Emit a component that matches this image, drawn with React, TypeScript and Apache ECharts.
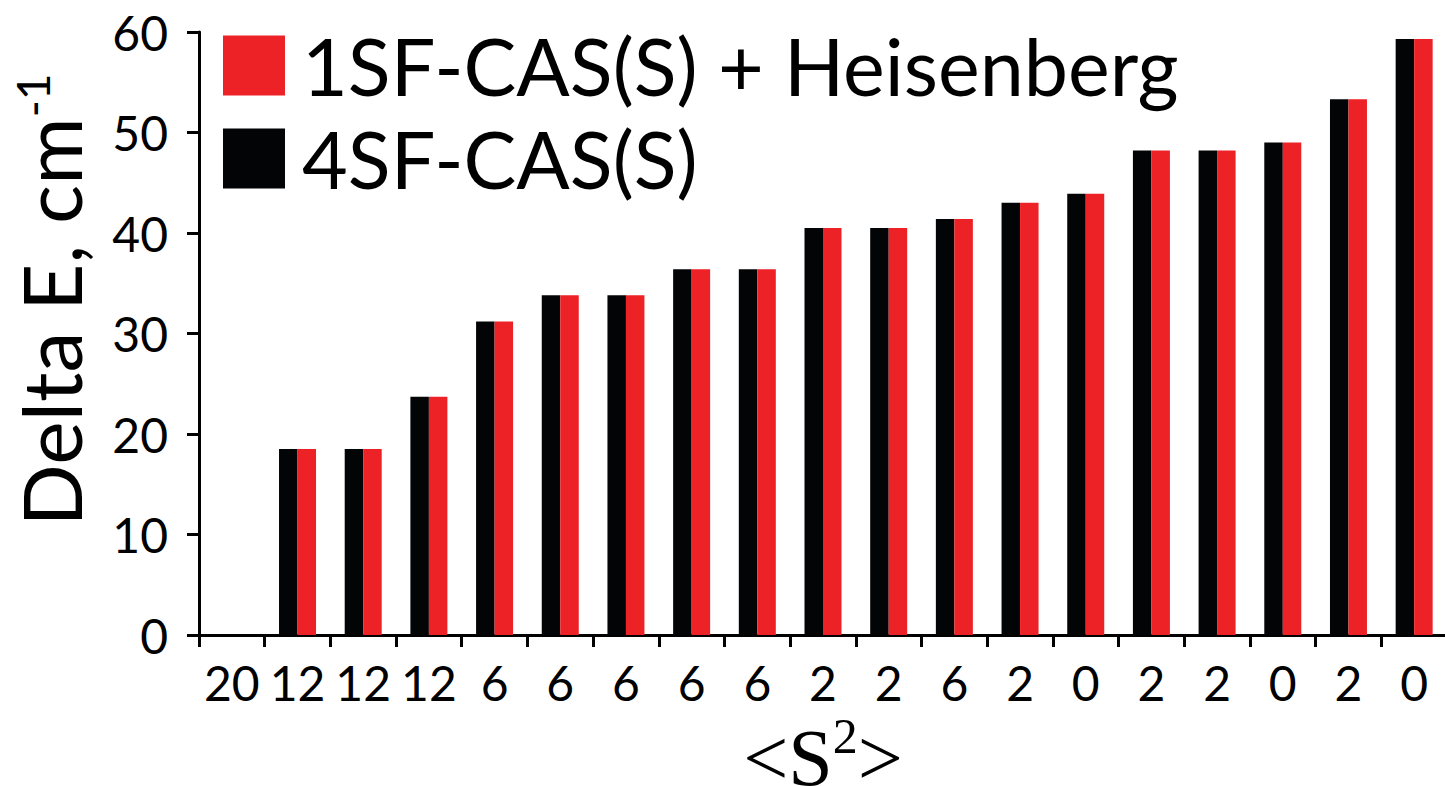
import React, { useEffect, useRef } from 'react';
import * as echarts from 'echarts';

const categories = ['20', '12', '12', '12', '6', '6', '6', '6', '6', '2', '2', '6', '2', '0', '2', '2', '0', '2', '0'];
const fourSF = [0, 18.5, 18.5, 23.7, 31.2, 33.8, 33.8, 36.4, 36.4, 40.5, 40.5, 41.4, 43.0, 43.9, 48.2, 48.2, 49.0, 53.3, 59.3];
const oneSFHeis = [0, 18.5, 18.5, 23.7, 31.2, 33.8, 33.8, 36.4, 36.4, 40.5, 40.5, 41.4, 43.0, 43.9, 48.2, 48.2, 49.0, 53.3, 59.3];
const seriesNames = ['4SF-CAS(S)', '1SF-CAS(S) + Heisenberg'];
const legendOrder = ['1SF-CAS(S) + Heisenberg', '4SF-CAS(S)'];

const RED = '#ED2227';
const BLACK = '#030406';
const SANS = 'Lato';
const SERIF = 'Liberation Serif';

export default function App() {
  const ref = useRef<HTMLDivElement>(null);
  useEffect(() => {
    if (!ref.current) return;
    const chart = echarts.init(ref.current, null, { renderer: 'svg' });
    chart.setOption({
      animation: false,
      backgroundColor: '#ffffff',
      grid: { left: 199, top: 32, width: 1248, height: 603, outerBoundsMode: 'none', containLabel: false },
      legend: {
        data: legendOrder,
        orient: 'vertical',
        left: 223,
        top: 26,
        padding: 0,
        itemWidth: 62,
        itemHeight: 60,
        itemGap: 14,
        icon: 'rect',
        selectedMode: false,
        textStyle: { fontFamily: SANS, fontSize: 79, color: '#000', padding: [0, 0, 0, 12] },
      },
      xAxis: {
        type: 'category',
        data: categories,
        boundaryGap: true,
        axisLine: { show: true, lineStyle: { color: '#000', width: 3 } },
        axisTick: { show: true, inside: false, length: 12, interval: 0, lineStyle: { color: '#000', width: 3 } },
        axisLabel: { interval: 0, margin: 23, fontFamily: SANS, fontSize: 48, color: '#000' },
        splitLine: { show: false },
        name: '{t|<S}{sup|2}{t|>}',
        nameLocation: 'middle',
        nameGap: 69,
        nameTextStyle: {
          rich: {
            t: { fontFamily: SERIF, fontSize: 80, color: '#000', lineHeight: 94 },
            sup: { fontFamily: SERIF, fontSize: 50, color: '#000', verticalAlign: 'top', lineHeight: 50 },
          },
        },
      },
      yAxis: {
        type: 'value',
        min: 0,
        max: 60,
        interval: 10,
        axisLine: { show: true, lineStyle: { color: '#000', width: 3 } },
        axisTick: { show: true, inside: false, length: 12, lineStyle: { color: '#000', width: 3 } },
        axisLabel: { margin: 31, fontFamily: SANS, fontSize: 48, color: '#000' },
        splitLine: { show: false },
        name: '{t|Delta E, cm}{sup|-1}',
        nameLocation: 'middle',
        nameRotate: 90,
        nameGap: 108,
        nameTextStyle: {
          padding: [0, 0, 0, 67],
          rich: {
            t: { fontFamily: SANS, fontSize: 82, color: '#000', lineHeight: 82 },
            sup: { fontFamily: SANS, fontSize: 46, color: '#000', verticalAlign: 'top', lineHeight: 46 },
          },
        },
      },
      series: [
        {
          name: seriesNames[0],
          type: 'bar',
          data: fourSF,
          barWidth: 18.5,
          barGap: '0%',
          itemStyle: { color: BLACK },
        },
        {
          name: seriesNames[1],
          type: 'bar',
          data: oneSFHeis,
          barWidth: 18.5,
          barGap: '0%',
          itemStyle: { color: RED },
        },
      ],
    });
    return () => chart.dispose();
  }, []);
  return (
    <div
      ref={ref}
      style={{ position: 'fixed', left: 0, top: 0, width: 1445, height: 786, background: '#fff' }}
    />
  );
}
